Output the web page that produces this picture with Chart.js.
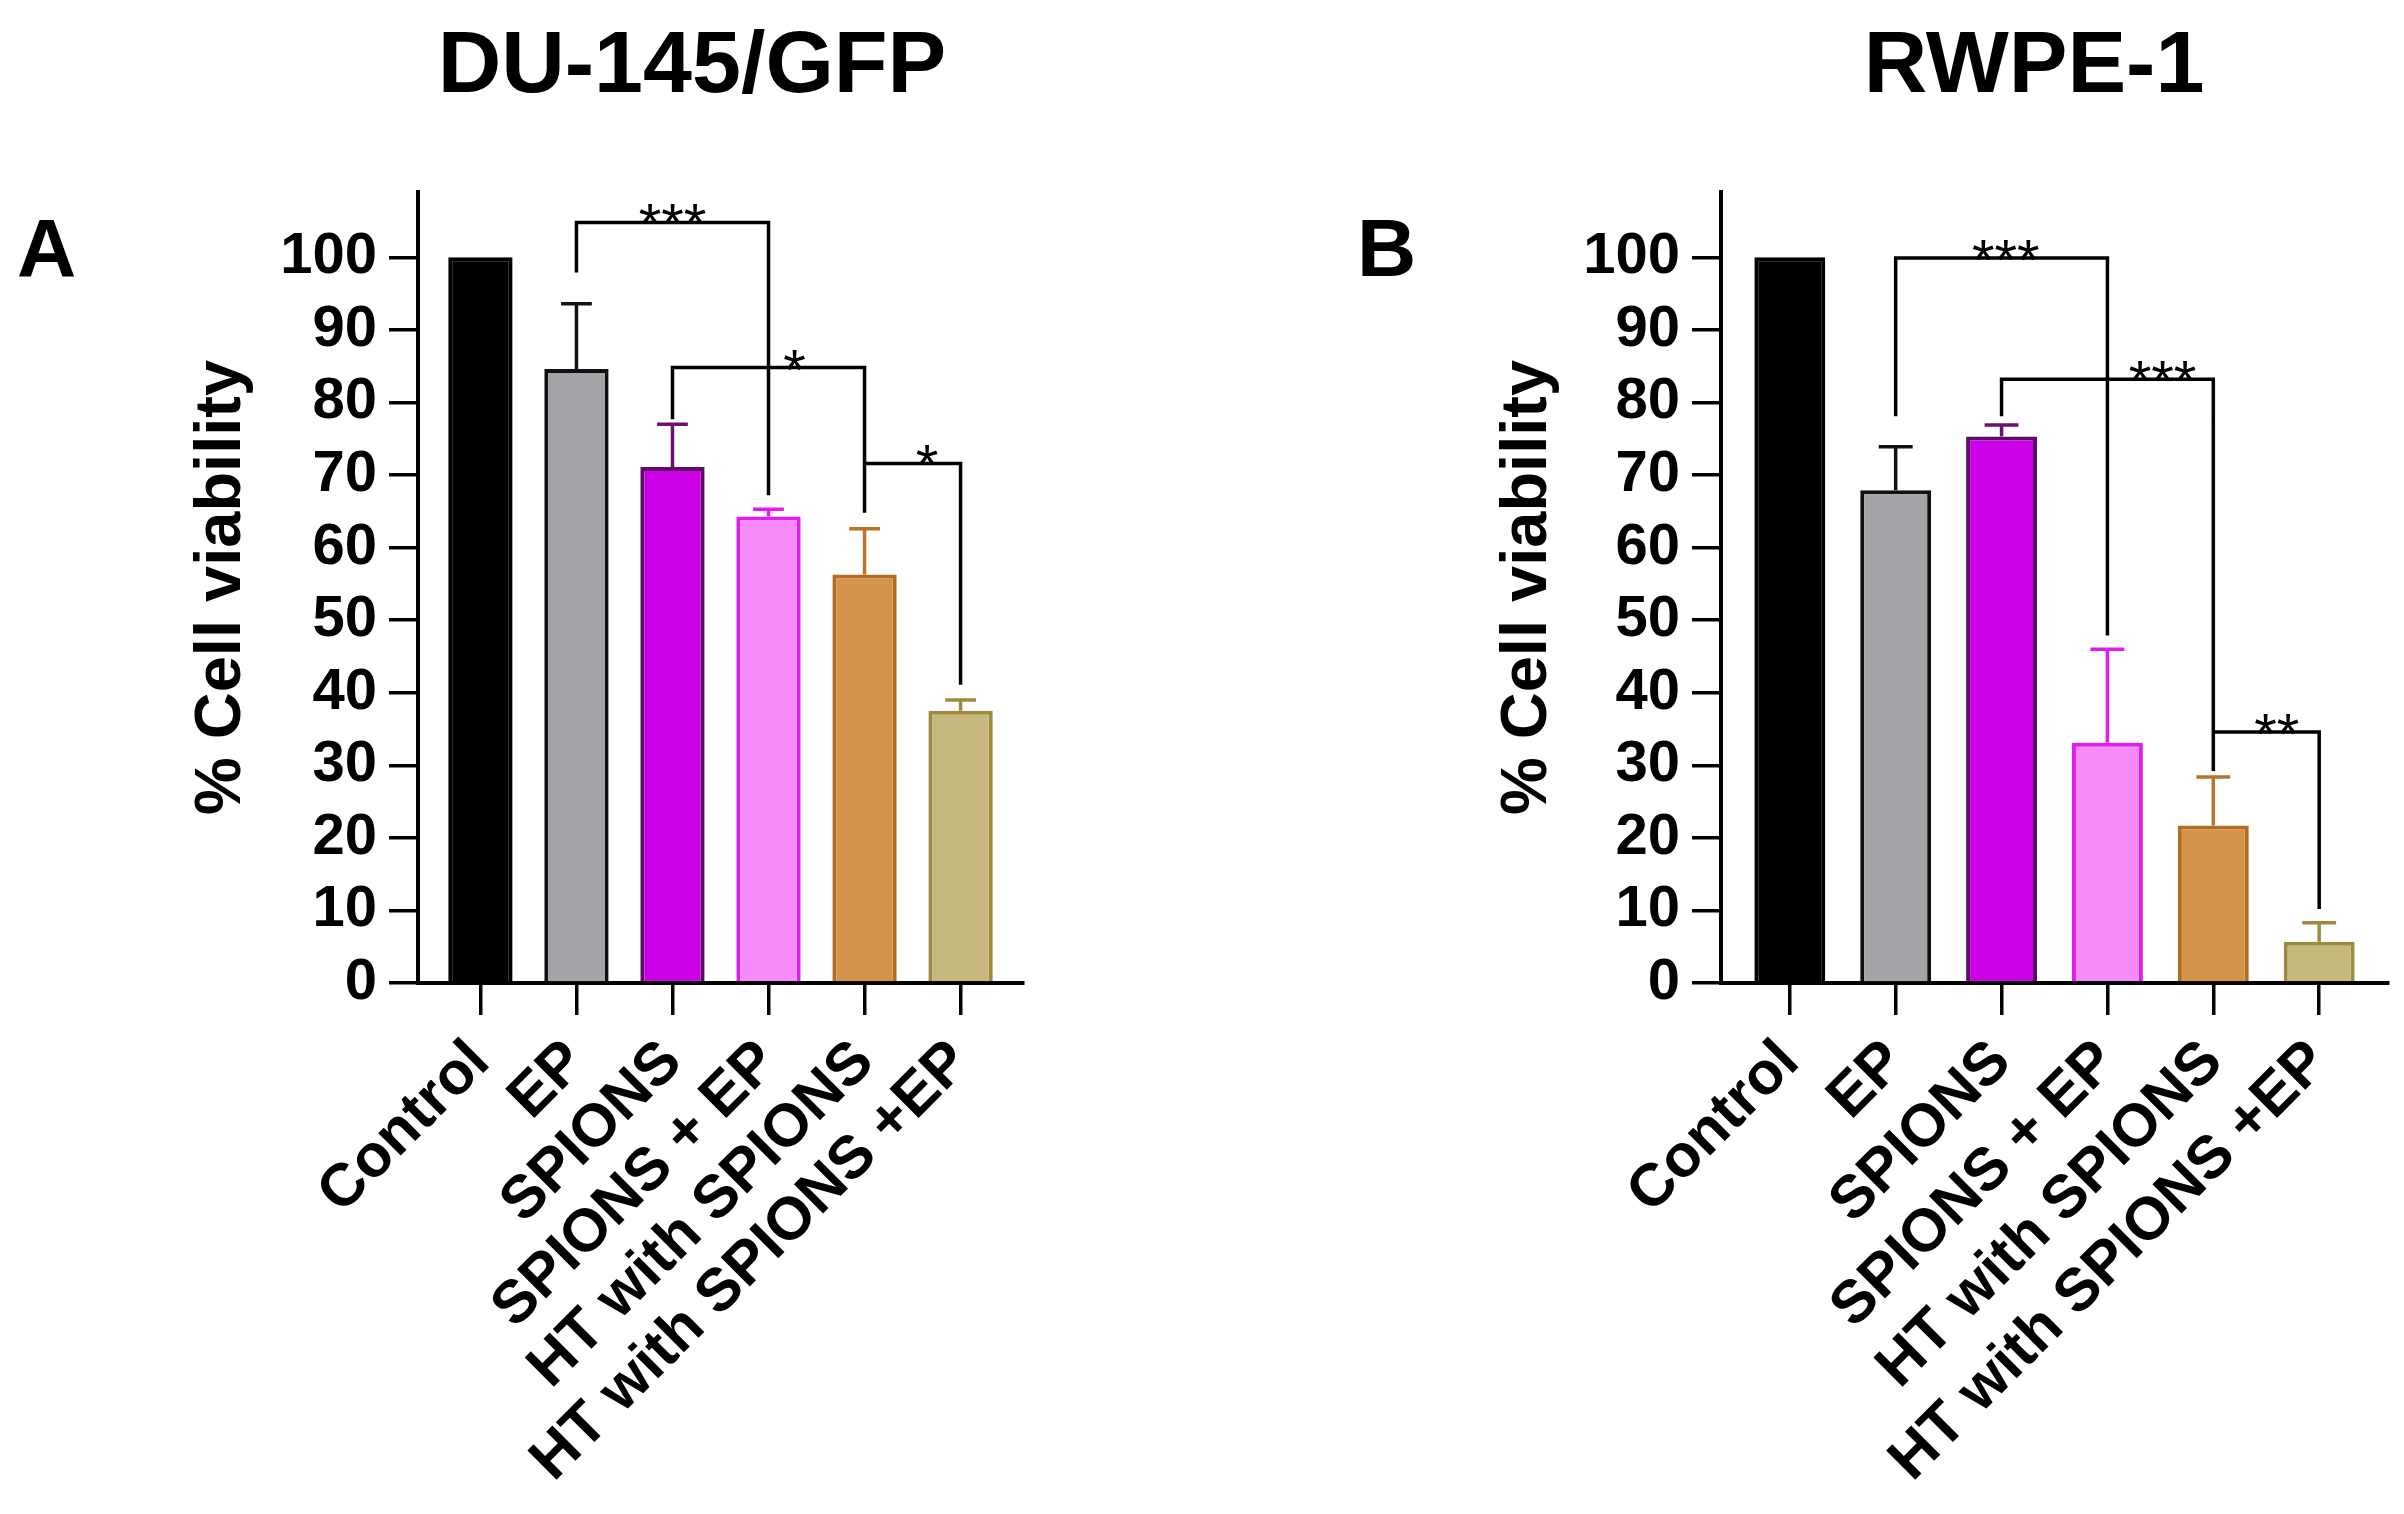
<!DOCTYPE html>
<html>
<head>
<meta charset="utf-8">
<script src="https://cdn.jsdelivr.net/npm/chart.js@4.4.1/dist/chart.umd.min.js"></script>
<style>
  body { margin: 0; background: #fff; width: 2404px; height: 1514px; position: relative; overflow: hidden; font-family: "Liberation Sans", Arial, sans-serif; }
  canvas { position: absolute; top: 0; }
  .txt { position: absolute; font-weight: bold; line-height: 1; white-space: nowrap; color: #000; }
</style>
</head>
<body>
<div class="txt" style="left:692px; top:18px; font-size:88px; transform:translateX(-50%)">DU-145/GFP</div>
<div class="txt" style="left:2034px; top:18px; font-size:88px; transform:translateX(-50%)">RWPE-1</div>
<div class="txt" style="left:17px; top:207px; font-size:82px">A</div>
<div class="txt" style="left:1357px; top:207px; font-size:82px">B</div>
<canvas id="chartA" style="left:0" width="1200" height="1514"></canvas>
<canvas id="chartB" style="left:1200px" width="1204" height="1514"></canvas>
<script>
const groups = ['Control', 'EP', 'SPIONS', 'SPIONS + EP', 'HT with SPIONS', 'HT with SPIONS +EP']
const yTicks = [0, 10, 20, 30, 40, 50, 60, 70, 80, 90, 100]

// mean and SD (upper error bar only), % cell viability
const du145Mean = [100, 84.6, 71.1, 64.3, 56.3, 37.5]
const du145Sd = [0, 9.0, 5.9, 1.0, 6.3, 1.5]
const rwpeMean = [100, 67.9, 75.3, 33.1, 21.7, 5.7]
const rwpeSd = [0, 6.0, 1.6, 12.9, 6.7, 2.6]

// significance brackets: [from group, to group, bracket level, left leg end, right leg end, stars]
const du145Pairs = [[1, 3, 104.8, 97.9, 67.2, '***'], [2, 4, 84.8, 77.7, 64.8, '*'], [4, 5, 71.6, 71.6, 41.1, '*']]
const rwpePairs = [[1, 3, 99.9, 78.1, 47.9, '***'], [2, 4, 83.2, 78.1, 29.2, '***'], [4, 5, 34.6, 34.6, 10.2, '**']]

// where the stars sit along each bracket (0 = left leg, 1 = right leg)
const du145StarAt = [0.5, 0.635, 0.65]
const rwpeStarAt = [0.52, 0.76, 0.6]

const fills = ['#000000', '#a4a3a8', '#cc00e6', '#f58cf9', '#d5934a', '#c7b97d']
const borders = ['#000000', '#111111', '#5e0a68', '#e21cf0', '#b26c20', '#9d8a3c']
const errColors = ['#000000', '#111111', '#6a1272', '#e21cf0', '#b8742a', '#9d8a3c']

const font = '"Liberation Sans", Arial, sans-serif'

const marks = {
  id: 'marks',
  afterDatasetsDraw(chart, args, opts) {
    const {ctx, scales: {x, y}} = chart
    ctx.save()
    ctx.lineWidth = 3.5
    opts.mean.forEach((m, i) => {
      if (!opts.sd[i]) return
      const px = x.getPixelForValue(i)
      const half = x.getPixelForValue(i + 0.16) - px
      const top = y.getPixelForValue(m + opts.sd[i])
      ctx.strokeStyle = errColors[i]
      ctx.beginPath()
      ctx.moveTo(px, y.getPixelForValue(m))
      ctx.lineTo(px, top)
      ctx.moveTo(px - half, top)
      ctx.lineTo(px + half, top)
      ctx.stroke()
    })
    ctx.strokeStyle = '#000'
    ctx.fillStyle = '#000'
    ctx.font = '58px ' + font
    ctx.textAlign = 'center'
    ctx.textBaseline = 'alphabetic'
    opts.pairs.forEach(([a, b, h, la, lb, stars], k) => {
      const xa = x.getPixelForValue(a)
      const xb = x.getPixelForValue(b)
      const yh = y.getPixelForValue(h)
      ctx.beginPath()
      ctx.moveTo(xa, y.getPixelForValue(la))
      ctx.lineTo(xa, yh)
      ctx.lineTo(xb, yh)
      ctx.lineTo(xb, y.getPixelForValue(lb))
      ctx.stroke()
      ctx.fillText(stars, xa + (xb - xa) * opts.starAt[k], yh + 22)
    })
    ctx.restore()
  }
}

const makeChart = (id, mean, sd, pairs, starAt, axisWidth, titlePad, padRight) => {
  new Chart(document.getElementById(id), {
    type: 'bar',
    data: {
      datasets: [{
        data: mean.map((v, i) => ({x: i, y: v})),
        backgroundColor: fills,
        borderColor: borders,
        borderWidth: 4,
        categoryPercentage: 1,
        barPercentage: 0.67
      }]
    },
    options: {
      responsive: false,
      animation: false,
      devicePixelRatio: 1,
      layout: {padding: {top: 192, right: padRight, left: 0, bottom: 0}},
      plugins: {
        legend: {display: false},
        tooltip: {enabled: false},
        marks: {mean, sd, pairs, starAt}
      },
      scales: {
        x: {
          type: 'linear',
          min: -0.65,
          max: 5.65,
          offset: false,
          afterBuildTicks: s => { s.ticks = groups.map((g, i) => ({value: i})) },
          afterFit: s => { s.height = 531 },
          ticks: {
            callback: v => groups[v],
            minRotation: 45,
            maxRotation: 45,
            autoSkip: false,
            padding: 12,
            color: '#000',
            font: {family: font, size: 60, weight: 'bold'}
          },
          grid: {offset: false, drawOnChartArea: false, tickLength: 32, color: '#000', lineWidth: 3.5},
          border: {color: '#000', width: 4}
        },
        y: {
          min: 0,
          max: 109,
          afterBuildTicks: s => { s.ticks = yTicks.map(v => ({value: v})) },
          afterFit: s => { s.width = axisWidth },
          ticks: {
            padding: 12,
            color: '#000',
            font: {family: font, size: 58, weight: 'bold'}
          },
          grid: {drawOnChartArea: false, tickLength: 29, color: '#000', lineWidth: 3.5},
          border: {color: '#000', width: 4},
          title: {
            display: true,
            text: '% Cell viability',
            color: '#000',
            padding: {top: titlePad - 3, bottom: 0},
            font: {family: font, size: 65, weight: 'bold', lineHeight: 1.2}
          }
        }
      }
    },
    plugins: [marks]
  })
}

makeChart('chartA', du145Mean, du145Sd, du145Pairs, du145StarAt, 418, 186, 177)
makeChart('chartB', rwpeMean, rwpeSd, rwpePairs, rwpeStarAt, 521, 292, 16)
</script>
</body>
</html>
